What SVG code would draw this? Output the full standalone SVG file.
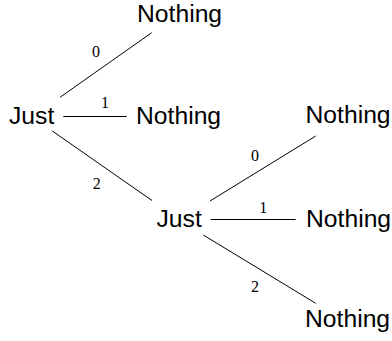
<svg xmlns="http://www.w3.org/2000/svg" width="392" height="341" viewBox="0 0 392 341">
<style>
.n{font-family:"Liberation Sans",Arial,sans-serif;font-size:24.7px;fill:#000}
.l{font-family:"Liberation Serif","Times New Roman",serif;font-size:16px;fill:#000;text-anchor:middle}
.e{stroke:#000;stroke-width:1;fill:none}
</style>
<rect width="392" height="341" fill="#fff"/>
<g id="connectors">
<line class="e" x1="60" y1="97.3" x2="151.7" y2="32.7"/>
<line class="e" x1="63.3" y1="116.5" x2="126.7" y2="116.5"/>
<line class="e" x1="52.3" y1="131" x2="152" y2="200.5"/>
<line class="e" x1="210" y1="201" x2="315.7" y2="136"/>
<line class="e" x1="210.7" y1="219.5" x2="295.7" y2="219.5"/>
<line class="e" x1="203.3" y1="235" x2="315.7" y2="303.3"/>
<text class="l" x="96" y="56.7">0</text>
<text class="l" x="105" y="108.3">1</text>
<text class="l" x="96.7" y="188.7">2</text>
<text class="l" x="255" y="160.7">0</text>
<text class="l" x="263.3" y="212.7">1</text>
<text class="l" x="255" y="291.7">2</text>
</g>
<g id="just1"><text class="n" x="9" y="124">Just</text></g>
<g id="nothing1"><text class="n" x="137" y="22.3">Nothing</text></g>
<g id="nothing2"><text class="n" x="136" y="123.5">Nothing</text></g>
<g id="just2"><text class="n" x="156.5" y="227">Just</text></g>
<g id="nothing3"><text class="n" x="305.5" y="123.3">Nothing</text></g>
<g id="nothing4"><text class="n" x="306" y="227.3">Nothing</text></g>
<g id="nothing5"><text class="n" x="305" y="327.3">Nothing</text></g>
</svg>
